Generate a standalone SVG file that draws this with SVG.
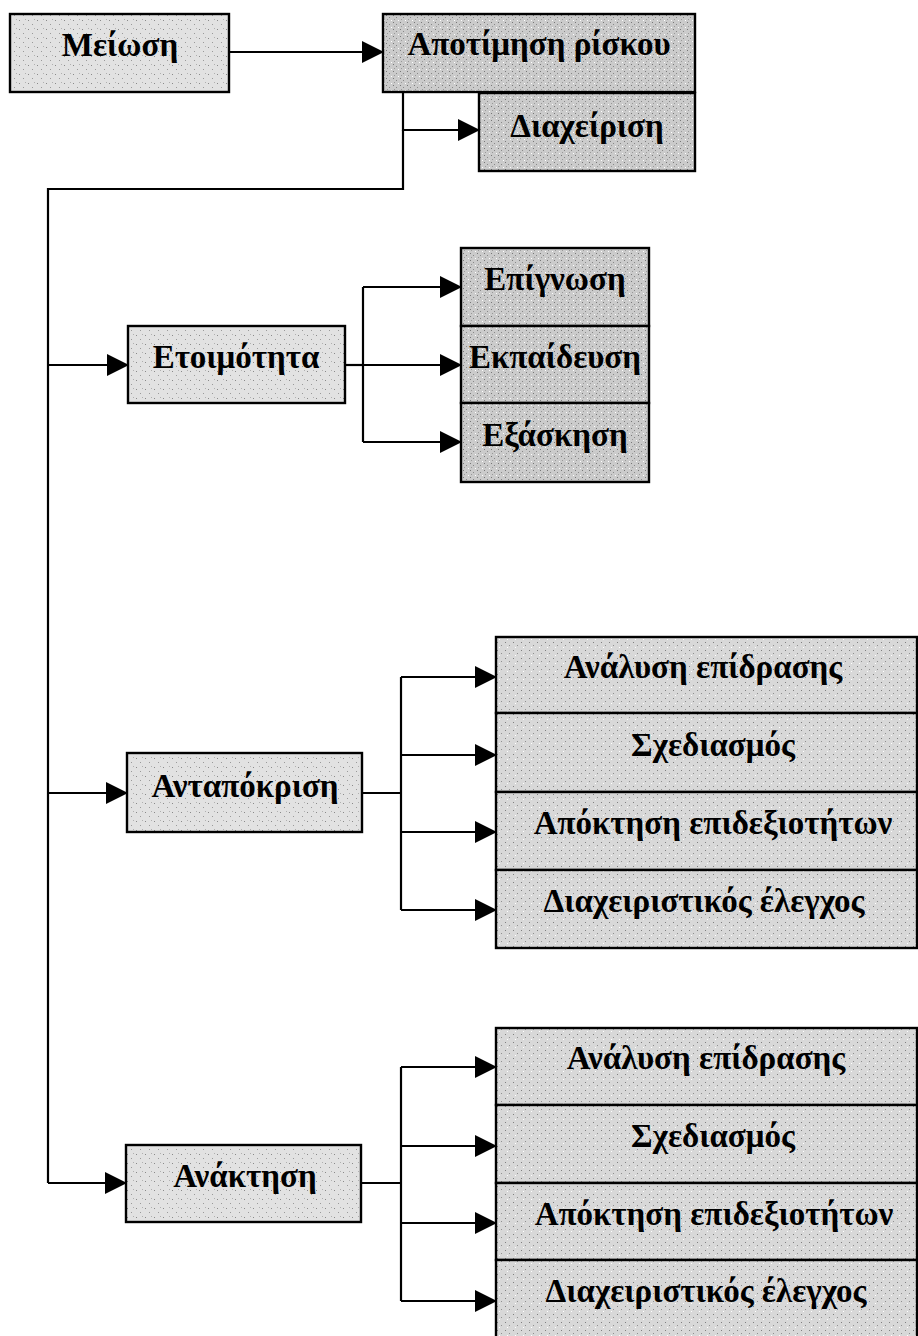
<svg xmlns="http://www.w3.org/2000/svg" width="918" height="1336" viewBox="0 0 918 1336">
<style>
.box{stroke:#000;stroke-width:2.4}
.t{font-family:"Liberation Serif","DejaVu Serif",serif;font-weight:bold;font-size:33px;fill:#000;text-anchor:middle}
.c{fill:none;stroke:#000;stroke-width:2.2}
</style>
<defs>
<marker id="ah" markerUnits="userSpaceOnUse" markerWidth="22" markerHeight="22" refX="21" refY="11" orient="auto">
<path d="M0,0 L22,11 L0,22 z" fill="#000"/>
</marker>
<pattern id="pl" patternUnits="userSpaceOnUse" width="9" height="9">
<rect width="9" height="9" fill="#e2e2e2"/>
<rect x="1" y="2" width="1" height="1" fill="#8a8a8a"/>
<rect x="5" y="6" width="1" height="1" fill="#9a9a9a"/>
<rect x="7" y="1" width="1" height="1" fill="#b0b0b0"/>
</pattern>
<pattern id="pd" patternUnits="userSpaceOnUse" width="7" height="7">
<rect width="7" height="7" fill="#cbcbcb"/>
<rect x="1" y="1" width="1" height="1" fill="#777"/>
<rect x="4" y="3" width="1" height="1" fill="#888"/>
<rect x="2" y="5" width="1" height="1" fill="#999"/>
<rect x="6" y="6" width="1" height="1" fill="#fff"/>
</pattern>
<pattern id="pm" patternUnits="userSpaceOnUse" width="8" height="8">
<rect width="8" height="8" fill="#d8d8d8"/>
<rect x="1" y="2" width="1" height="1" fill="#808080"/>
<rect x="5" y="5" width="1" height="1" fill="#909090"/>
<rect x="3" y="7" width="1" height="1" fill="#fff"/>
</pattern>
</defs>
<rect width="918" height="1336" fill="#fff"/>

<g id="connectors">
<path class="c" d="M229,52 H383" marker-end="url(#ah)"/>
<path class="c" d="M403,92 V130 H479" marker-end="url(#ah)"/>
<path class="c" d="M403,130 V189 H48 V1183"/>
<path class="c" d="M48,365 H128" marker-end="url(#ah)"/>
<path class="c" d="M48,793 H127" marker-end="url(#ah)"/>
<path class="c" d="M48,1183 H126" marker-end="url(#ah)"/>
<path class="c" d="M345,365 H363"/>
<path class="c" d="M363,287 V442"/>
<path class="c" d="M363,287 H461" marker-end="url(#ah)"/>
<path class="c" d="M363,365 H461" marker-end="url(#ah)"/>
<path class="c" d="M363,442 H461" marker-end="url(#ah)"/>
<path class="c" d="M362,793 H401"/>
<path class="c" d="M401,677 V910"/>
<path class="c" d="M401,677 H496" marker-end="url(#ah)"/>
<path class="c" d="M401,755 H496" marker-end="url(#ah)"/>
<path class="c" d="M401,832 H496" marker-end="url(#ah)"/>
<path class="c" d="M401,910 H496" marker-end="url(#ah)"/>
<path class="c" d="M361,1183 H401"/>
<path class="c" d="M401,1067 V1301"/>
<path class="c" d="M401,1067 H496" marker-end="url(#ah)"/>
<path class="c" d="M401,1146 H496" marker-end="url(#ah)"/>
<path class="c" d="M401,1223 H496" marker-end="url(#ah)"/>
<path class="c" d="M401,1301 H496" marker-end="url(#ah)"/>
</g>

<g id="meiosi"><rect class="box" fill="url(#pl)" x="10" y="14" width="219" height="78"/><text class="t" x="120" y="56">Μείωση</text></g>
<g id="apotimisi"><rect class="box" fill="url(#pd)" x="383" y="14" width="312" height="78"/><text class="t" x="539" y="55">Αποτίμηση ρίσκου</text></g>
<g id="diaxeirisi"><rect class="box" fill="url(#pd)" x="479" y="93" width="216" height="78"/><text class="t" x="587" y="137">Διαχείριση</text></g>

<g id="etoimotita"><rect class="box" fill="url(#pl)" x="128" y="326" width="217" height="77"/><text class="t" x="236" y="368">Ετοιμότητα</text></g>
<g id="epignosi"><rect class="box" fill="url(#pd)" x="461" y="248" width="188" height="78"/><text class="t" x="555" y="290">Επίγνωση</text></g>
<g id="ekpaideusi"><rect class="box" fill="url(#pd)" x="461" y="326" width="188" height="77"/><text class="t" x="555" y="368">Εκπαίδευση</text></g>
<g id="exaskisi"><rect class="box" fill="url(#pd)" x="461" y="403" width="188" height="79"/><text class="t" x="555" y="446">Εξάσκηση</text></g>

<g id="antapokrisi"><rect class="box" fill="url(#pl)" x="127" y="753" width="235" height="79"/><text class="t" x="245" y="797">Ανταπόκριση</text></g>
<g id="r-analysi"><rect class="box" fill="url(#pm)" x="496" y="637" width="421" height="76"/><text class="t" x="703" y="678">Ανάλυση επίδρασης</text></g>
<g id="r-sxediasmos"><rect class="box" fill="url(#pm)" x="496" y="713" width="421" height="79"/><text class="t" x="713" y="756">Σχεδιασμός</text></g>
<g id="r-apoktisi"><rect class="box" fill="url(#pm)" x="496" y="792" width="421" height="78"/><text class="t" x="713" y="834">Απόκτηση επιδεξιοτήτων</text></g>
<g id="r-elegxos"><rect class="box" fill="url(#pm)" x="496" y="870" width="421" height="78"/><text class="t" x="704" y="912">Διαχειριστικός έλεγχος</text></g>

<g id="anaktisi"><rect class="box" fill="url(#pl)" x="126" y="1145" width="235" height="77"/><text class="t" x="245" y="1187">Ανάκτηση</text></g>
<g id="k-analysi"><rect class="box" fill="url(#pm)" x="496" y="1028" width="421" height="77"/><text class="t" x="706" y="1069">Ανάλυση επίδρασης</text></g>
<g id="k-sxediasmos"><rect class="box" fill="url(#pm)" x="496" y="1105" width="421" height="78"/><text class="t" x="713" y="1147">Σχεδιασμός</text></g>
<g id="k-apoktisi"><rect class="box" fill="url(#pm)" x="496" y="1183" width="421" height="77"/><text class="t" x="714" y="1225">Απόκτηση επιδεξιοτήτων</text></g>
<g id="k-elegxos"><rect class="box" fill="url(#pm)" x="496" y="1260" width="421" height="80"/><text class="t" x="706" y="1302">Διαχειριστικός έλεγχος</text></g>
</svg>
